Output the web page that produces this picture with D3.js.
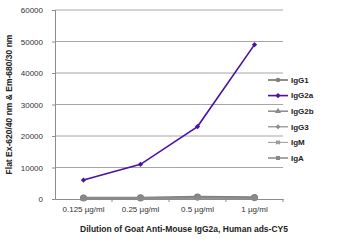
<!DOCTYPE html>
<html>
<head>
<meta charset="utf-8">
<script src="https://cdn.jsdelivr.net/npm/d3@7"></script>
<style>
  body { margin: 0; background: #fff; }
  text { font-family: "Liberation Sans", Arial, sans-serif; fill: #222; }
</style>
</head>
<body>
<script>
var width = 350, height = 243;

var categories = ["0.125 µg/ml", "0.25 µg/ml", "0.5 µg/ml", "1 µg/ml"];
var yTicks = [0, 10000, 20000, 30000, 40000, 50000, 60000];
var igG1 = [300, 350, 600, 450];
var igG2a = [6000, 11000, 23000, 49000];
var igG2b = [250, 300, 500, 400];
var igG3 = [200, 250, 450, 350];
var igM = [150, 200, 350, 300];
var igA = [250, 300, 500, 400];

var series = [
  {name: "IgG1", values: igG1, color: "#7f7f7f", shape: d3.symbolCircle, size: 40, lw: 2.5},
  {name: "IgG2a", values: igG2a, color: "#4a12a6", shape: d3.symbolSquare, size: 14, lw: 1.6, rot: 45},
  {name: "IgG2b", values: igG2b, color: "#8a8a8a", shape: d3.symbolTriangle, size: 20, lw: 1.5},
  {name: "IgG3", values: igG3, color: "#8c8c8c", shape: d3.symbolSquare, size: 12, lw: 1.2, rot: 45},
  {name: "IgM", values: igM, color: "#9a9a9a", shape: d3.symbolCross, size: 14, lw: 1, rot: 45},
  {name: "IgA", values: igA, color: "#888888", shape: d3.symbolSquare, size: 18, lw: 1.5}
];

var margin = {top: 10, right: 67, bottom: 44, left: 55};

var svg = d3.select("body").append("svg")
    .attr("width", width)
    .attr("height", height);

var x = d3.scaleBand().domain(categories).range([margin.left, width - margin.right]);
var y = d3.scaleLinear().domain([0, 60000]).range([height - margin.bottom, margin.top]);

function rotOf(s) { return s.rot ? " rotate(" + s.rot + ")" : ""; }

// gridlines
svg.append("g").selectAll("line")
    .data(yTicks.slice(1))
    .enter().append("line")
    .attr("x1", margin.left).attr("x2", width - margin.right)
    .attr("y1", function(d) { return y(d); }).attr("y2", function(d) { return y(d); })
    .style("stroke", "#a6a6a6").style("stroke-width", 1);

// y axis
var yAxis = svg.append("g")
    .attr("transform", "translate(" + margin.left + ",0)")
    .call(d3.axisLeft(y).tickValues(yTicks).tickSize(3).tickPadding(9).tickFormat(d3.format("d")));
yAxis.selectAll("text").style("font-size", "8px").style("fill", "#333");
yAxis.selectAll("line, path").style("stroke", "#8c8c8c");

// x axis
var xAxis = svg.append("g")
    .attr("transform", "translate(0," + y(0) + ")")
    .call(d3.axisBottom(x).tickSize(0).tickPadding(7));
xAxis.selectAll("text").style("font-size", "8px").style("fill", "#333");
xAxis.select("path").style("stroke", "#8c8c8c");
// ticks between categories
xAxis.selectAll(".sep")
    .data(categories.slice(1).concat(["end"]))
    .enter().append("line")
    .attr("x1", function(d, i) { return margin.left + x.bandwidth() * (i + 1); })
    .attr("x2", function(d, i) { return margin.left + x.bandwidth() * (i + 1); })
    .attr("y1", 0).attr("y2", 3)
    .style("stroke", "#8c8c8c");

var line = d3.line()
    .x(function(d, i) { return x(categories[i]) + x.bandwidth() / 2; })
    .y(function(d) { return y(d); });

// draw grey ones first, purple on top
var order = [0, 2, 3, 4, 5, 1];
order.forEach(function(k) {
  var s = series[k];
  var g = svg.append("g");
  g.append("path")
      .datum(s.values)
      .attr("d", line)
      .style("fill", "none")
      .style("stroke", s.color)
      .style("stroke-width", s.lw);
  g.selectAll(".pt")
      .data(s.values)
      .enter().append("path")
      .attr("transform", function(d, i) {
        return "translate(" + (x(categories[i]) + x.bandwidth() / 2) + "," + y(d) + ")" + rotOf(s);
      })
      .attr("d", d3.symbol().type(s.shape).size(s.size))
      .style("fill", s.color);
});

// legend
var legend = svg.append("g").attr("transform", "translate(268,80)");
var items = legend.selectAll("g")
    .data(series)
    .enter().append("g")
    .attr("transform", function(d, i) { return "translate(0," + (i * 15.6) + ")"; });
items.append("line")
    .attr("x1", 0).attr("x2", 20)
    .style("stroke", function(d) { return d.color; })
    .style("stroke-width", function(d) { return Math.min(d.lw, 1.8); });
items.append("path")
    .attr("transform", function(d) { return "translate(10,0)" + rotOf(d); })
    .attr("d", function(d) { return d3.symbol().type(d.shape).size(Math.min(d.size, 16))(); })
    .style("fill", function(d) { return d.color; });
items.append("text")
    .attr("x", 23).attr("dy", "0.35em")
    .style("font-size", "8px")
    .style("font-weight", "bold")
    .text(function(d) { return d.name; });

// axis titles
svg.append("text")
    .attr("transform", "translate(12," + ((margin.top + y(0)) / 2) + ") rotate(-90)")
    .attr("text-anchor", "middle")
    .style("font-size", "8.5px")
    .style("font-weight", "bold")
    .text("Flat Ex-620/40 nm & Em-680/30 nm");

svg.append("text")
    .attr("x", 184).attr("y", 232)
    .attr("text-anchor", "middle")
    .style("font-size", "8.5px")
    .style("font-weight", "bold")
    .text("Dilution of Goat Anti-Mouse IgG2a, Human ads-CY5");
</script>
</body>
</html>
